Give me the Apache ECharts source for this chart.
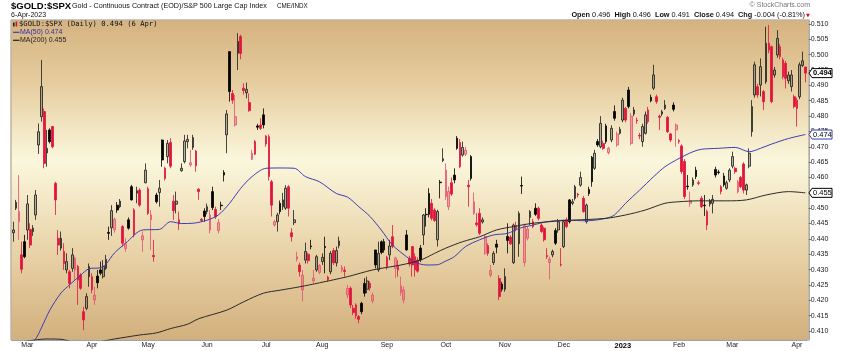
<!DOCTYPE html>
<html>
<head>
<meta charset="utf-8">
<script src="https://cdn.jsdelivr.net/npm/echarts@6/dist/echarts.min.js"></script>
<style>
  html, body { margin: 0; padding: 0; background: #fff; }
  #chart { width: 842px; height: 351px; }
</style>
</head>
<body>
<div id="chart"></div>
<script>
// trading calendar
const firstDay = '2022-02-22';
const lastDay = '2023-04-06';
const holidays = ['2022-04-15', '2022-05-30', '2022-06-20', '2022-07-04', '2022-09-05',
  '2022-11-24', '2022-12-26', '2023-01-02', '2023-01-16', '2023-02-20'];
const monthNames = ['Jan', 'Feb', 'Mar', 'Apr', 'May', 'Jun', 'Jul', 'Aug', 'Sep', 'Oct', 'Nov', 'Dec'];

// daily candles [open, close, low, high]
const candles = [
  [.4420,.4429,.4391,.4456],[.4500,.4519,.4494,.4527],[.4456,.4489,.4397,.4608],[.4348,.4301,.4288,.4391],
  [.4391,.4342,.4337,.4413],[.4429,.4514,.4397,.4543],[.4431,.4380,.4370,.4451],[.4424,.4435,.4410,.4445],
  [.4478,.4543,.4462,.4559],[.4706,.4749,.4677,.4776],[.4798,.4896,.4782,.4983],[.4815,.4646,.4630,.4825],
  [.4680,.4695,.4635,.4755],[.4755,.4717,.4711,.4760],[.4766,.4700,.4695,.4768],[.4581,.4527,.4478,.4586],
  [.4402,.4380,.4348,.4429],[.4370,.4402,.4362,.4424],[.4359,.4320,.4299,.4386],[.4299,.4326,.4288,.4353],
  [.4293,.4255,.4239,.4299],[.4304,.4348,.4293,.4370],[.4299,.4337,.4266,.4342],[.4310,.4266,.4185,.4315],
  [.4282,.4239,.4234,.4288],[.4163,.4136,.4103,.4179],[.4174,.4212,.4168,.4223],[.4277,.4310,.4244,.4320],
  [.4277,.4234,.4223,.4288],[.4201,.4217,.4185,.4244],[.4279,.4257,.4239,.4299],[.4299,.4288,.4282,.4326],
  [.4277,.4310,.4271,.4331],[.4304,.4333,.4299,.4348],[.4421,.4418,.4397,.4440],[.4436,.4492,.4410,.4510],
  [.4430,.4464,.4420,.4470],[.4510,.4494,.4485,.4520],[.4505,.4523,.4500,.4530],[.4440,.4386,.4375,.4445],
  [.4369,.4384,.4358,.4402],[.4462,.4435,.4430,.4470],[.4570,.4527,.4525,.4576],[.4494,.4413,.4405,.4500],
  [.4549,.4557,.4516,.4570],[.4559,.4510,.4505,.4565],[.4397,.4410,.4358,.4424],[.4583,.4624,.4581,.4646],
  [.4563,.4483,.4478,.4570],[.4462,.4478,.4364,.4494],[.4346,.4342,.4326,.4397],[.4543,.4521,.4515,.4550],
  [.4551,.4565,.4505,.4592],[.4722,.4657,.4635,.4724],[.4630,.4597,.4590,.4635],[.4668,.4711,.4646,.4722],
  [.4714,.4637,.4630,.4728],[.4523,.4492,.4462,.4543],[.4513,.4523,.4483,.4554],[.4462,.4449,.4429,.4489],
  [.4622,.4630,.4619,.4646],[.4652,.4719,.4646,.4739],[.4717,.4724,.4695,.4739],[.4641,.4648,.4635,.4690],
  [.4698,.4730,.4690,.4739],[.4686,.4638,.4619,.4690],[.4562,.4554,.4527,.4565],[.4464,.4460,.4455,.4468],
  [.4491,.4473,.4456,.4500],[.4489,.4505,.4480,.4515],[.4429,.4478,.4418,.4494],[.4554,.4502,.4494,.4570],
  [.4496,.4472,.4465,.4505],[.4427,.4453,.4418,.4464],[.4510,.4508,.4494,.4521],[.4616,.4608,.4587,.4624],
  [.4739,.4807,.4679,.4820],[.5010,.4880,.4847,.5010],[.4874,.4852,.4840,.4885],[.4771,.4798,.4766,.4869],
  [.5005,.5043,.4950,.5070],[.5059,.5004,.4985,.5065],[.4891,.4883,.4870,.4907],[.4876,.4887,.4858,.4909],
  [.4844,.4818,.4814,.4874],[.4659,.4679,.4657,.4690],[.4717,.4676,.4673,.4722],[.4768,.4764,.4755,.4775],
  [.4771,.4760,.4755,.4793],[.4804,.4771,.4760,.4825],[.4735,.4709,.4700,.4738],[.4733,.4603,.4590,.4740],
  [.4586,.4510,.4473,.4592],[.4445,.4456,.4440,.4462],[.4456,.4478,.4424,.4485],[.4516,.4489,.4480,.4525],
  [.4505,.4527,.4494,.4550],[.4500,.4565,.4495,.4575],[.4570,.4500,.4473,.4575],[.4420,.4407,.4391,.4435],
  [.4453,.4462,.4445,.4494],[.4334,.4342,.4326,.4358],[.4315,.4293,.4277,.4323],[.4234,.4282,.4196,.4299],
  [.4331,.4359,.4320,.4388],[.4350,.4329,.4320,.4355],[.4377,.4375,.4366,.4397],[.4263,.4272,.4255,.4299],
  [.4299,.4342,.4293,.4348],[.4291,.4313,.4285,.4318],[.4326,.4340,.4315,.4353],[.4375,.4372,.4288,.4407],
  [.4275,.4268,.4260,.4280],[.4293,.4353,.4285,.4360],[.4362,.4322,.4315,.4370],[.4322,.4362,.4310,.4375],
  [.4378,.4393,.4369,.4407],[.4299,.4307,.4290,.4315],[.4298,.4294,.4277,.4310],[.4218,.4239,.4207,.4250],
  [.4239,.4185,.4175,.4245],[.4174,.4160,.4152,.4185],[.4185,.4150,.4140,.4190],[.4147,.4138,.4125,.4152],
  [.4190,.4163,.4155,.4195],[.4255,.4223,.4212,.4272],[.4236,.4263,.4223,.4277],[.4255,.4240,.4230,.4262],
  [.4198,.4217,.4190,.4225],[.4364,.4315,.4304,.4364],[.4299,.4353,.4293,.4391],[.4391,.4356,.4350,.4395],
  [.4391,.4364,.4355,.4400],[.4340,.4310,.4300,.4345],[.4348,.4377,.4331,.4397],[.4407,.4375,.4370,.4445],
  [.4304,.4337,.4272,.4342],[.4310,.4299,.4277,.4331],[.4226,.4247,.4215,.4277],[.4201,.4234,.4190,.4245],
  [.4413,.4364,.4362,.4429],[.4337,.4318,.4310,.4345],[.4375,.4315,.4277,.4375],[.4342,.4299,.4277,.4353],
  [.4331,.4295,.4290,.4340],[.4370,.4332,.4325,.4380],[.4413,.4478,.4380,.4481],[.4480,.4479,.4440,.4500],
  [.4548,.4480,.4470,.4565],[.4516,.4467,.4460,.4530],[.4494,.4460,.4455,.4500],[.4397,.4489,.4375,.4495],
  [.4585,.4583,.4532,.4592],[.4655,.4661,.4650,.4695],[.4538,.4624,.4527,.4646],[.4505,.4554,.4494,.4570],
  [.4583,.4546,.4540,.4600],[.4608,.4592,.4581,.4630],[.4728,.4695,.4690,.4735],[.4714,.4635,.4630,.4725],
  [.4673,.4698,.4668,.4717],[.4676,.4689,.4670,.4700],[.4575,.4570,.4505,.4592],[.4668,.4597,.4590,.4673],
  [.4483,.4521,.4478,.4551],[.4452,.4446,.4440,.4484],[.4483,.4418,.4413,.4500],[.4455,.4462,.4450,.4470],
  [.4353,.4408,.4348,.4413],[.4378,.4353,.4345,.4385],[.4282,.4297,.4275,.4315],[.4323,.4353,.4315,.4360],
  [.4383,.4373,.4353,.4397],[.4271,.4212,.4201,.4282],[.4253,.4236,.4228,.4260],[.4236,.4277,.4228,.4304],
  [.4408,.4395,.4353,.4451],[.4406,.4384,.4380,.4412],[.4323,.4445,.4318,.4450],[.4443,.4434,.4425,.4456],
  [.4384,.4483,.4342,.4490],[.4574,.4572,.4546,.4603],[.4323,.4443,.4310,.4450],[.4402,.4432,.4395,.4440],
  [.4470,.4489,.4445,.4494],[.4456,.4440,.4435,.4465],[.4500,.4480,.4475,.4516],[.4500,.4467,.4460,.4505],
  [.4445,.4424,.4420,.4450],[.4435,.4397,.4391,.4440],[.4346,.4342,.4335,.4370],[.4323,.4334,.4268,.4342],
  [.4348,.4359,.4340,.4365],[.4427,.4386,.4380,.4435],[.4429,.4456,.4420,.4465],[.4317,.4315,.4310,.4370],
  [.4375,.4456,.4370,.4462],[.4462,.4440,.4435,.4470],[.4527,.4456,.4450,.4530],[.4516,.4521,.4510,.4530],
  [.4532,.4570,.4525,.4576],[.4546,.4543,.4535,.4550],[.4575,.4600,.4570,.4619],[.4532,.4489,.4485,.4540],
  [.4456,.4510,.4450,.4515],[.4561,.4548,.4540,.4570],[.4666,.4586,.4570,.4670],[.4630,.4679,.4625,.4690],
  [.4717,.4706,.4700,.4725],[.4700,.4776,.4695,.4800],[.4711,.4695,.4690,.4720],[.4768,.4717,.4710,.4775],
  [.4681,.4695,.4675,.4700],[.4722,.4760,.4715,.4770],[.4815,.4793,.4785,.4835],[.4706,.4742,.4700,.4750],
  [.4744,.4757,.4740,.4765],[.4787,.4852,.4780,.4860],[.4825,.4787,.4780,.4830],[.4885,.4831,.4825,.4895],
  [.4711,.4800,.4705,.4810],[.4807,.4820,.4800,.4830],[.4787,.4785,.4775,.4795],[.4737,.4735,.4725,.4745],
  [.4717,.4766,.4700,.4775],[.4744,.4804,.4740,.4815],[.4820,.4782,.4775,.4830],[.4861,.4850,.4845,.4870],
  [.4891,.4934,.4885,.4967],[.4863,.4847,.4840,.4870],[.4800,.4796,.4755,.4805],[.4807,.4814,.4800,.4820],
  [.4825,.4836,.4820,.4852],[.4796,.4749,.4745,.4800],[.4742,.4722,.4715,.4745],[.4836,.4822,.4815,.4845],
  [.4755,.4771,.4700,.4776],[.4720,.4717,.4710,.4725],[.4703,.4619,.4612,.4708],[.4652,.4538,.4530,.4660],
  [.4572,.4570,.4560,.4608],[.4516,.4524,.4505,.4554],[.4576,.4592,.4570,.4600],[.4624,.4603,.4595,.4635],
  [.4583,.4581,.4575,.4590],[.4532,.4505,.4500,.4540],[.4510,.4508,.4475,.4543],[.4489,.4445,.4429,.4495],
  [.4513,.4524,.4505,.4530],[.4516,.4529,.4483,.4543],[.4626,.4608,.4600,.4635],[.4618,.4616,.4610,.4625],
  [.4570,.4554,.4545,.4575],[.4605,.4576,.4570,.4615],[.4565,.4583,.4560,.4590],[.4592,.4624,.4585,.4630],
  [.4637,.4668,.4630,.4684],[.4630,.4619,.4612,.4635],[.4554,.4586,.4548,.4592],[.4600,.4570,.4565,.4605],
  [.4644,.4559,.4548,.4650],[.4559,.4576,.4543,.4580],[.4637,.4679,.4630,.4695],[.4749,.4831,.4733,.4852],
  [.4869,.4967,.4860,.4977],[.4896,.4869,.4860,.4905],[.4901,.4961,.4864,.4988],[.4880,.4847,.4820,.4885],
  [.4912,.5037,.4905,.5091],[.5037,.5015,.5005,.5097],[.5026,.4847,.4842,.5030],[.4934,.4950,.4925,.4960],
  [.4999,.5053,.4990,.5080],[.5026,.4994,.4985,.5035],[.4983,.4928,.4920,.4990],[.4972,.4923,.4890,.4980],
  [.4915,.4934,.4905,.4945],[.4896,.4934,.4880,.4950],[.4863,.4831,.4825,.4870],[.4852,.4825,.4766,.4860],
  [.4863,.4967,.4855,.4975],[.4965,.4980,.4960,.5010],[.4960,.4940,.4910,.4960]
];

// moving averages: [day index, value]
const ma50 = [
  [3,.4020],[8,.4075],[10,.4110],[13,.4168],[17,.4224],[20,.4250],[24,.4282],[27,.4303],[31,.4306],
  [33,.4318],[36,.4354],[40,.4386],[46,.4429],[52,.4431],[56,.4456],[60,.4450],[64,.4451],[69,.4461],
  [73,.4478],[77,.4516],[81,.4565],[85,.4603],[90,.4630],[95,.4631],[100,.4630],[104,.4603],[109,.4586],
  [115,.4548],[119,.4536],[123,.4505],[127,.4473],[131,.4429],[135,.4380],[140,.4342],[143,.4324],
  [147,.4315],[151,.4316],[154,.4328],[157,.4342],[161,.4375],[166,.4397],[171,.4413],[176,.4418],
  [180,.4434],[185,.4445],[190,.4456],[197,.4461],[204,.4459],[211,.4467],[214,.4478],[218,.4516],
  [223,.4559],[228,.4603],[232,.4635],[237,.4662],[242,.4684],[245,.4692],[251,.4695],[257,.4698],
  [262,.4684],[266,.4695],[270,.4709],[276,.4727],[282,.4740]
];
const ma200 = [
  [0,.4060],[12,.4074],[17,.4073],[22,.4064],[30,.4065],[36,.4074],[45,.4087],[51,.4094],[56,.4108],
  [62,.4122],[66,.4140],[76,.4168],[82,.4195],[89,.4223],[95,.4233],[102,.4244],[109,.4257],[119,.4277],
  [128,.4299],[138,.4315],[145,.4331],[150,.4353],[154,.4370],[160,.4391],[166,.4407],[172,.4429],
  [178,.4440],[185,.4451],[195,.4459],[199,.4461],[211,.4467],[218,.4478],[225,.4494],[232,.4516],
  [237,.4521],[244,.4524],[254,.4524],[261,.4527],[268,.4543],[276,.4554],[282,.4550]
];

const yTicks = [0.410,0.415,0.420,0.425,0.430,0.435,0.440,0.445,0.450,0.455,0.460,
  0.465,0.470,0.475,0.480,0.485,0.490,0.495,0.500,0.505,0.510];
// last-value tags on the right edge
const tagValues = [0.494, 0.474, 0.455];
const tagColors = ['#000', '#3c3cb4', '#000'];

// build trading days
const days = [];
(function () {
  const d = new Date(firstDay + 'T00:00:00Z');
  const end = new Date(lastDay + 'T00:00:00Z');
  while (d <= end) {
    const s = d.toISOString().slice(0, 10);
    const dow = d.getUTCDay();
    if (dow !== 0 && dow !== 6 && holidays.indexOf(s) < 0) days.push(s);
    d.setUTCDate(d.getUTCDate() + 1);
  }
})();
const monthStart = {};
days.forEach((s, i) => {
  if (i > 0 && s.slice(5, 7) !== days[i - 1].slice(5, 7)) monthStart[i] = s;
});

// StockCharts style colouring: hollow = close above open, red = close below previous close
const candleData = candles.map((c, i) => {
  const up = c[1] >= c[0];
  const gain = i === 0 || c[1] >= candles[i - 1][1];
  let fill, edge;
  if (up) {
    fill = gain ? 'rgba(105,100,88,0.45)' : 'rgba(230,80,105,0.45)';
    edge = gain ? '#1a1a1a' : '#e4506e';
  } else {
    fill = gain ? '#000' : '#e2143c';
    edge = gain ? '#000' : '#e2143c';
  }
  return {
    value: c,
    itemStyle: { color: fill, color0: fill, borderColor: edge, borderColor0: edge }
  };
});

const myChart = echarts.init(document.getElementById('chart'));

const baseGraphic = [
  {
    type: 'rect', z: -10,
    shape: { x: 11, y: 20, width: 798, height: 320 },
    style: {
      fill: new echarts.graphic.LinearGradient(0, 0, 0, 1, [
        { offset: 0, color: '#d5b27f' },
        { offset: 0.2, color: '#e6cd9f' },
        { offset: 0.44, color: '#fbf7dd' },
        { offset: 0.72, color: '#e9d3a8' },
        { offset: 1, color: '#d3af7d' }
      ]),
      stroke: '#bdb4a4', lineWidth: 1
    }
  },
  { type: 'text', left: 11, top: 1, style: { text: '$GOLD:$SPX', font: 'bold 9.5px "Liberation Sans"', fill: '#000' } },
  { type: 'text', left: 72, top: 2.5, style: { text: 'Gold - Continuous Contract (EOD)/S&P 500 Large Cap Index', font: '7.2px "Liberation Sans"', fill: '#111' } },
  { type: 'text', left: 277, top: 3.5, style: { text: 'CME/INDX', font: '6.3px "Liberation Sans"', fill: '#111' } },
  { type: 'text', left: 11, top: 11.5, style: { text: '6-Apr-2023', font: '7px "Liberation Sans"', fill: '#111' } },
  { type: 'text', right: 32, top: 2, style: { text: '\u00a9 StockCharts.com', font: '7px "Liberation Sans"', fill: '#777' } },
  {
    type: 'text', right: 37, top: 11.5,
    style: {
      text: '{b|Open} 0.496  {b|High} 0.496  {b|Low} 0.491  {b|Close} 0.494  {b|Chg} -0.004 (-0.81%)',
      font: '7.3px "Liberation Sans"', fill: '#111',
      rich: { b: { fontWeight: 'bold', fontSize: 7.3, fontFamily: 'Liberation Sans' } }
    }
  },
  { type: 'text', left: 806, top: 13, style: { text: '\u25bc', font: '5px "DejaVu Sans"', fill: '#d01030' } },
  // legend inside the plot
  { type: 'rect', shape: { x: 13, y: 22.5, width: 1.6, height: 4 }, style: { fill: '#222' } },
  { type: 'rect', shape: { x: 15.6, y: 21.5, width: 1.6, height: 5 }, style: { fill: '#d0103a' } },
  { type: 'text', left: 19, top: 21, style: { text: '$GOLD:$SPX (Daily) 0.494 (6 Apr)', font: '7.2px "DejaVu Sans Mono"', fill: '#111' } },
  { type: 'line', shape: { x1: 13, y1: 32.3, x2: 19.5, y2: 32.3 }, style: { stroke: '#3c3cb4', lineWidth: 1.2 } },
  { type: 'text', left: 20, top: 28.5, style: { text: 'MA(50) 0.474', font: '7px "Liberation Sans"', fill: '#3030a8' } },
  { type: 'line', shape: { x1: 13, y1: 40.3, x2: 19.5, y2: 40.3 }, style: { stroke: '#222', lineWidth: 1.2 } },
  { type: 'text', left: 20, top: 36.5, style: { text: 'MA(200) 0.455', font: '7px "Liberation Sans"', fill: '#222' } }
];

myChart.setOption({
  animation: false,
  graphic: baseGraphic,
  grid: { left: 11.9, right: 35.2, top: 20, bottom: 11, show: false },
  xAxis: {
    type: 'category',
    data: days,
    boundaryGap: true,
    axisLine: { lineStyle: { color: '#999', type: 'dotted', width: 1 } },
    axisTick: { show: false },
    splitLine: { show: false },
    axisLabel: {
      interval: (idx) => monthStart[idx] !== undefined,
      margin: 2,
      fontSize: 7,
      fontFamily: 'Liberation Sans',
      color: '#222',
      formatter: (val) => {
        const m = +val.slice(5, 7);
        return m === 1 ? '{y|' + val.slice(0, 4) + '}' : monthNames[m - 1];
      },
      rich: { y: { fontWeight: 'bold', fontSize: 7.5, fontFamily: 'Liberation Sans', color: '#000' } }
    }
  },
  yAxis: {
    type: 'value',
    position: 'right',
    offset: 2,
    min: 0.40707,
    max: 0.51130,
    scale: true,
    axisLine: { show: true, lineStyle: { color: '#aaa' } },
    axisTick: { show: true, length: 2, lineStyle: { color: '#666' }, customValues: yTicks },
    splitLine: { show: false },
    axisLabel: {
      customValues: yTicks,
      margin: 2,
      fontSize: 7,
      fontFamily: 'Liberation Sans',
      color: '#222',
      formatter: (v) => v.toFixed(3)
    }
  },
  series: [
    {
      name: 'GOLD:SPX',
      type: 'candlestick',
      barWidth: 2.2,
      itemStyle: { borderWidth: 0.8 },
      data: candleData,
      z: 3
    },
    {
      name: 'MA(50)',
      type: 'line',
      data: ma50,
      smooth: 0.3,
      showSymbol: false,
      z: 4,
      lineStyle: { color: '#3c3cb4', width: 1 }
    },
    {
      name: 'MA(200)',
      type: 'line',
      data: ma200,
      smooth: 0.3,
      showSymbol: false,
      z: 4,
      lineStyle: { color: '#2a2a2a', width: 1 }
    }
  ]
});

// pointer-shaped value tags placed through the y axis scale
const tags = [];
tagValues.forEach((v, k) => {
  const y = myChart.convertToPixel({ yAxisIndex: 0 }, v);
  tags.push({
    type: 'polygon', z: 20,
    shape: { points: [[809, y], [812, y - 4.5], [832, y - 4.5], [832, y + 4.5], [812, y + 4.5]] },
    style: { fill: '#fff', stroke: tagColors[k], lineWidth: 1 }
  });
  tags.push({
    type: 'text', z: 21, x: 813, y: y,
    style: {
      text: v.toFixed(3), fill: '#000',
      font: (k === 0 ? 'bold ' : '') + '7.5px "Liberation Sans"',
      verticalAlign: 'middle', align: 'left'
    }
  });
});
myChart.setOption({ graphic: baseGraphic.concat(tags) });

window.addEventListener('resize', () => {
  myChart && myChart.resize();
});
</script>
</body>
</html>
